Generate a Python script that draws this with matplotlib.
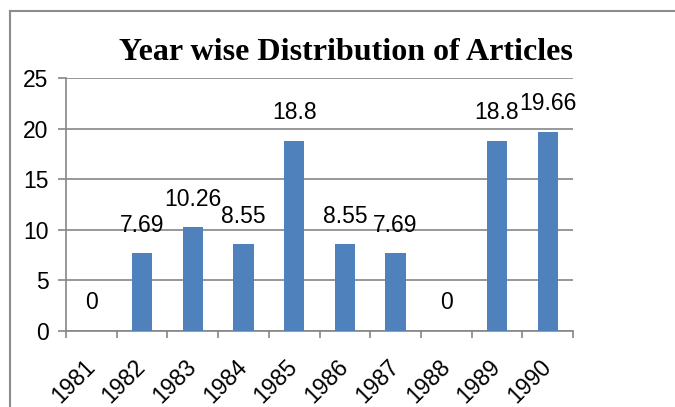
import numpy as np
import matplotlib.pyplot as plt
from matplotlib.lines import Line2D

# Data
years = ["1981", "1982", "1983", "1984", "1985", "1986", "1987", "1988", "1989", "1990"]
percent = [0, 7.69, 10.26, 8.55, 18.8, 8.55, 7.69, 0, 18.8, 19.66]
y_ticks = [0, 5, 10, 15, 20, 25]

bar_color = "#4F81BD"
grid_color = "#868686"

fig = plt.figure(figsize=(6.75, 4.07), dpi=100)
ax = fig.add_axes([0.0978, 0.1867, 0.7511, 0.6217])

x = np.arange(len(years))
ax.bar(x, percent, width=0.4, color=bar_color, zorder=3)

# data labels above each bar
for xi, v in zip(x, percent):
    ax.annotate(f"{v:g}", (xi, v), xytext=(0, 12), textcoords="offset points",
                ha="center", va="bottom", fontsize=16.5, family="Liberation Sans")

ax.set_xlim(-0.5, len(years) - 0.5)
ax.set_ylim(0, 25)
ax.set_yticks(y_ticks)
ax.set_yticklabels([str(t) for t in y_ticks], fontsize=16.5, family="Liberation Sans")
ax.yaxis.grid(True, color=grid_color, linewidth=1.2, zorder=0)

# category labels at centres, tick marks at boundaries (Excel style)
ax.set_xticks(x)
ax.set_xticklabels(years, fontsize=16.5, family="Liberation Sans",
                   rotation=45, ha="right", va="center", rotation_mode="anchor")
ax.set_xticks(np.arange(-0.5, len(years)), minor=True)
ax.tick_params(axis="x", which="major", length=0, pad=23.5)
ax.tick_params(axis="x", which="minor", length=5, width=1.2, color=grid_color)
ax.tick_params(axis="y", length=5.5, width=1.2, color=grid_color, pad=7)

for side in ["top", "right"]:
    ax.spines[side].set_visible(False)
for side in ["left", "bottom"]:
    ax.spines[side].set_color(grid_color)
    ax.spines[side].set_linewidth(1.2)

fig.text(0.513, 0.872, "Year wise Distribution of Articles", ha="center", va="center",
         fontsize=23, fontweight="bold", family="Liberation Serif")

# chart frame (left and top edges visible)
fig.add_artist(Line2D([10 / 675, 10 / 675], [0, 1 - 11 / 407], transform=fig.transFigure,
                      color="#8c8c8c", linewidth=1.5))
fig.add_artist(Line2D([10 / 675, 1], [1 - 11 / 407, 1 - 11 / 407], transform=fig.transFigure,
                      color="#8c8c8c", linewidth=1.5))

fig.savefig("out.png", dpi=100)
